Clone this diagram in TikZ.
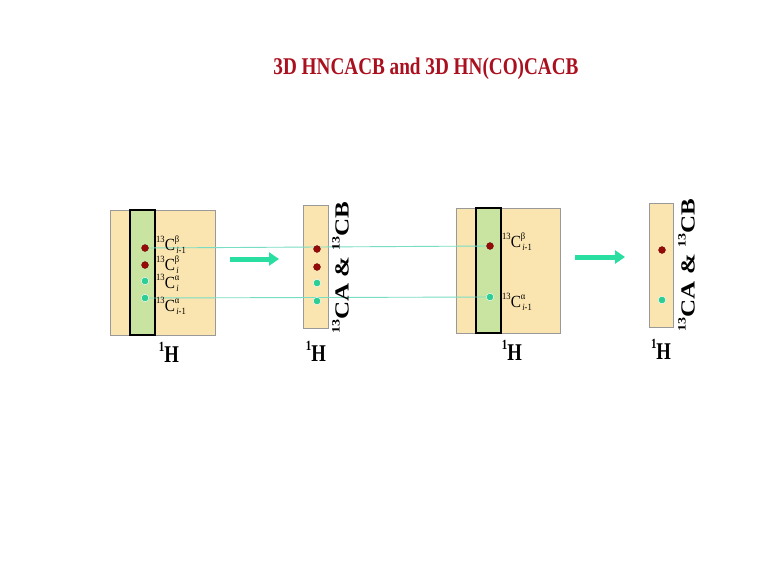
\documentclass[tikz,border=0pt]{standalone}
\usepackage{fontspec}
\setmainfont{Liberation Serif}
\usetikzlibrary{arrows.meta}
\definecolor{tan}{RGB}{250,228,176}
\definecolor{strip}{RGB}{200,228,160}
\definecolor{dred}{RGB}{150,10,10}
\definecolor{dteal}{RGB}{45,205,150}
\definecolor{lteal}{RGB}{120,222,195}
\definecolor{arr}{RGB}{40,222,160}
\definecolor{ttl}{RGB}{170,15,30}
\newcommand{\smallfs}{\fontsize{9.5}{9.5}\selectfont}
\newcommand{\clab}[2]{\scalebox{0.9}[1]{\raisebox{0.42em}{\smallfs 13}C\makebox[0pt][l]{\raisebox{0.45em}{\smallfs #1}}\hspace{1.5pt}\raisebox{-0.22em}{\smallfs #2}}}
\newcommand{\ilm}{\itshape i\upshape -1}
\newcommand{\iso}[2]{\raisebox{0.45em}{\fontsize{#1}{#1}\selectfont #2}}
\tikzset{
  panel/.style={draw=black!40, fill=tan, line width=0.6pt, inner sep=0pt},
  stripbox/.style={draw=black, fill=strip, line width=1.6pt, inner sep=0pt},
  rdot/.style={circle, fill=dred, draw=dred!70!black, line width=0.3pt, inner sep=0pt, minimum size=7pt},
  gdot/.style={circle, fill=dteal, draw=white, line width=0.4pt, inner sep=0pt, minimum size=7.5pt},
  link/.style={draw=lteal, line width=0.9pt},
  bigarrow/.style={draw=arr, line width=5pt, -{Triangle[length=10pt,width=13pt]}},
  clabel/.style={font=\fontsize{17}{17}\selectfont, anchor=base west, inner sep=0pt},
  hlabel/.style={font=\bfseries\fontsize{24}{24}\selectfont, inner sep=0pt, anchor=base},
  axlabel/.style={font=\bfseries\fontsize{25}{25}\selectfont, rotate=90, inner sep=0pt},
}
\begin{document}
\begin{tikzpicture}[x=1pt,y=-1pt]
\useasboundingbox[fill=white] (0,0) rectangle (767,578);
% title
\node[font=\bfseries\fontsize{24}{24}\selectfont, text=ttl] (title) at (426,69) {\scalebox{0.8}[1]{3D HNCACB and 3D HN(CO)CACB}};
% panel 1
\node[panel, minimum width=105pt, minimum height=125pt] (p1) at (162.5,272.5) {};
\node[stripbox, minimum width=25pt, minimum height=125pt] (s1) at (142.5,272.5) {};
% panel 2
\node[panel, minimum width=25pt, minimum height=123pt] (p2) at (315.5,266.5) {};
% panel 3
\node[panel, minimum width=104pt, minimum height=125pt] (p3) at (508,270.5) {};
\node[stripbox, minimum width=25pt, minimum height=125pt] (s3) at (488.5,270.5) {};
% panel 4
\node[panel, minimum width=24pt, minimum height=124pt] (p4) at (661,265) {};
% dot positions
\coordinate (a1) at (145,248);
\coordinate (a2) at (145,265);
\coordinate (a3) at (145,281);
\coordinate (a4) at (145,298);
\coordinate (b1) at (317,249);
\coordinate (b2) at (317,267);
\coordinate (b3) at (317,283);
\coordinate (b4) at (317,301);
\coordinate (c1) at (490,246);
\coordinate (c4) at (490,297);
\coordinate (d1) at (662,250);
\coordinate (d4) at (662,300);
% links
\draw[link] (a1) -- (c1);
\draw[link] (a4) -- (c4);
% dots
\node[rdot] (na1) at (a1) {};
\node[rdot] (na2) at (a2) {};
\node[gdot] (na3) at (a3) {};
\node[gdot] (na4) at (a4) {};
\node[rdot] (nb1) at (b1) {};
\node[rdot] (nb2) at (b2) {};
\node[gdot] (nb3) at (b3) {};
\node[gdot] (nb4) at (b4) {};
\node[rdot] (nc1) at (c1) {};
\node[gdot] (nc4) at (c4) {};
\node[rdot] (nd1) at (d1) {};
\node[gdot] (nd4) at (d4) {};
% carbon labels
\node[clabel] (l1) at (156,250) {\clab{β}{\ilm}};
\node[clabel] (l2) at (156,270) {\clab{β}{\itshape i}};
\node[clabel] (l3) at (156,288) {\clab{α}{\itshape i}};
\node[clabel] (l4) at (156,311) {\clab{α}{\ilm}};
\node[clabel] (l5) at (502,247) {\clab{β}{\ilm}};
\node[clabel] (l6) at (502,307) {\clab{α}{\ilm}};
% arrows
\coordinate (ar1s) at (230,259);
\coordinate (ar1e) at (279,259);
\coordinate (ar2s) at (575,257);
\coordinate (ar2e) at (625,257);
\draw[bigarrow] (ar1s) -- (ar1e);
\draw[bigarrow] (ar2s) -- (ar2e);
% axis labels
\node[axlabel] (ax2) at (340.5,267.5) {\scalebox{1}[0.8]{\iso{14}{13}CA \& \iso{14}{13}CB}};
\node[axlabel] (ax4) at (686.5,265) {\scalebox{1}[0.8]{\iso{14}{13}CA \& \iso{14}{13}CB}};
\node[hlabel] (h1) at (169,362) {\scalebox{0.78}[1]{\iso{14}{1}H}};
\node[hlabel] (h2) at (316,361) {\scalebox{0.78}[1]{\iso{14}{1}H}};
\node[hlabel] (h3) at (512,360) {\scalebox{0.78}[1]{\iso{14}{1}H}};
\node[hlabel] (h4) at (661,359) {\scalebox{0.78}[1]{\iso{14}{1}H}};
\end{tikzpicture}
\end{document}
